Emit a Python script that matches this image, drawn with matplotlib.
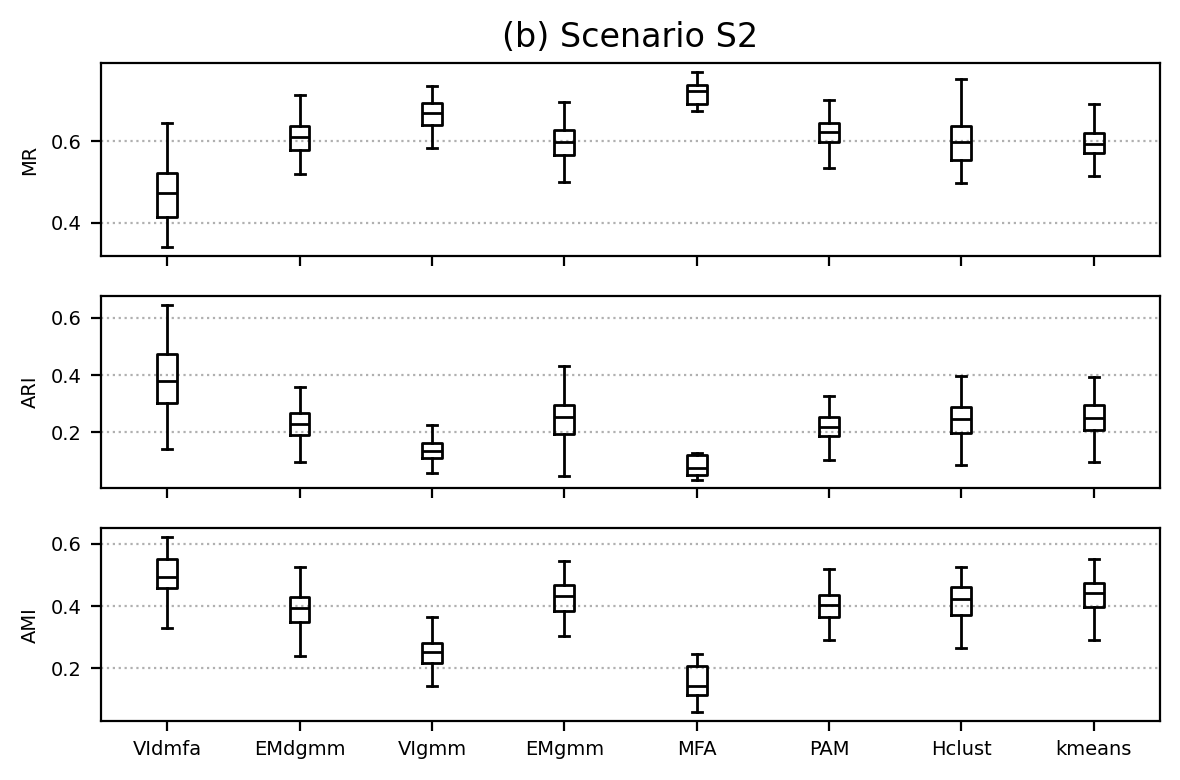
import numpy as np
import matplotlib
matplotlib.use('Agg')
import matplotlib.pyplot as plt
from matplotlib.ticker import MultipleLocator

# methods on the x axis
methods = ['VIdmfa', 'EMdgmm', 'VIgmm', 'EMgmm', 'MFA', 'PAM', 'Hclust', 'kmeans']

# box summaries: [whisker low, q1, median, q3, whisker high]
mr = [[0.341, 0.414, 0.473, 0.523, 0.645],
      [0.519, 0.579, 0.609, 0.638, 0.713],
      [0.582, 0.640, 0.669, 0.692, 0.735],
      [0.501, 0.566, 0.597, 0.628, 0.696],
      [0.674, 0.691, 0.722, 0.738, 0.769],
      [0.535, 0.599, 0.623, 0.645, 0.701],
      [0.497, 0.553, 0.599, 0.638, 0.752],
      [0.514, 0.571, 0.594, 0.621, 0.691]]

ari = [[0.142, 0.303, 0.381, 0.474, 0.647],
       [0.096, 0.191, 0.229, 0.268, 0.359],
       [0.058, 0.109, 0.136, 0.164, 0.226],
       [0.047, 0.193, 0.252, 0.297, 0.433],
       [0.034, 0.049, 0.074, 0.121, 0.129],
       [0.103, 0.186, 0.220, 0.252, 0.328],
       [0.086, 0.196, 0.248, 0.287, 0.398],
       [0.096, 0.208, 0.249, 0.294, 0.392]]

ami = [[0.331, 0.460, 0.495, 0.553, 0.622],
       [0.241, 0.349, 0.393, 0.428, 0.526],
       [0.145, 0.216, 0.253, 0.281, 0.366],
       [0.305, 0.384, 0.434, 0.468, 0.546],
       [0.059, 0.115, 0.142, 0.209, 0.245],
       [0.292, 0.366, 0.405, 0.436, 0.518],
       [0.267, 0.373, 0.422, 0.463, 0.526],
       [0.290, 0.398, 0.441, 0.476, 0.553]]

metrics = ['MR', 'ARI', 'AMI']
panels = [mr, ari, ami]


def make_stats(rows, labels):
    stats = []
    for r, lab in zip(rows, labels):
        stats.append(dict(whislo=r[0], q1=r[1], med=r[2], q3=r[3], whishi=r[4],
                          fliers=[], label=lab))
    return stats


fig, axes = plt.subplots(3, 1, figsize=(5.9, 3.9), dpi=200, sharex=True)
fig.subplots_adjust(left=0.0856, right=0.983, top=0.919, bottom=0.0756, hspace=0.207)

line = dict(color='black', linewidth=1.0)
positions = np.arange(1, len(methods) + 1)

for ax, rows, name in zip(axes, panels, metrics):
    ax.bxp(make_stats(rows, methods), positions=positions, widths=0.15,
           showfliers=False, boxprops=line, whiskerprops=line, capprops=line,
           medianprops=line)
    ax.set_ylabel(name, fontsize=7)
    ax.yaxis.set_major_locator(MultipleLocator(0.2))
    ax.grid(axis='y', linestyle=':', color='#b0b0b0', linewidth=0.8)
    ax.set_axisbelow(True)
    ax.tick_params(axis='both', labelsize=7)
    ax.set_xlim(0.5, len(methods) + 0.5)

axes[0].set_title('(b) Scenario S2', fontsize=12)
axes[-1].set_xticks(positions)
axes[-1].set_xticklabels(methods)

plt.savefig('out.png', dpi=200)
